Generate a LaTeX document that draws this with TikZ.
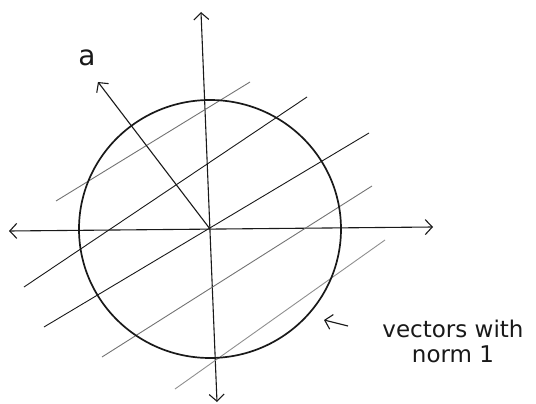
\documentclass[tikz,border=0pt]{standalone}
\usepackage{fontspec}
\newfontfamily\handfont{DejaVu Sans}
\definecolor{ink}{RGB}{25,25,25}
\definecolor{pencil}{RGB}{115,115,115}
\usetikzlibrary{arrows.meta}

\begin{document}
\begin{tikzpicture}[x=1pt, y=-1pt, >={Straight Barb[length=7pt,width=15pt]},
  axis/.style={ink, line width=1.1pt},
  hatch/.style={line width=0.9pt}]
  \useasboundingbox (0,0) rectangle (536,404);

  % Origin and axes
  \coordinate (O) at (210,229);
  \coordinate (xl) at (9,231);
  \coordinate (xr) at (433,227);
  \coordinate (yt) at (201,12);
  \coordinate (yb) at (217,402);
  \draw[axis, <->] (xl) -- (xr);
  \draw[axis, <->] (yt) -- (yb);

  % Parallel lines
  \foreach \xa/\ya/\xb/\yb/\col in {56/201/250/82/pencil, 24/287/307/97/ink,
      44/327/369/133/ink, 102/357/372/186/pencil, 175/389/385/240/pencil!80}
    \draw[hatch, \col] (\xa,\ya) -- (\xb,\yb);

  % Unit circle
  \draw[ink, line width=1.7pt] (O) ellipse [x radius=131, y radius=129];

  % Vector a
  \coordinate (atip) at (98,82);
  \draw[axis, ->] (O) -- (atip);
  \node[font=\handfont\fontsize{28}{30}\selectfont, ink] (alab) at (87,58) {a};

  % Label
  \node[font=\handfont\fontsize{23}{25}\selectfont, align=center, ink] (norm) at (453,341) {vectors with\\norm 1};
  \coordinate (ptail) at (348,326);
  \coordinate (ptr) at (324,320);
  \draw[axis, ->] (ptail) -- (ptr);
\end{tikzpicture}
\end{document}
